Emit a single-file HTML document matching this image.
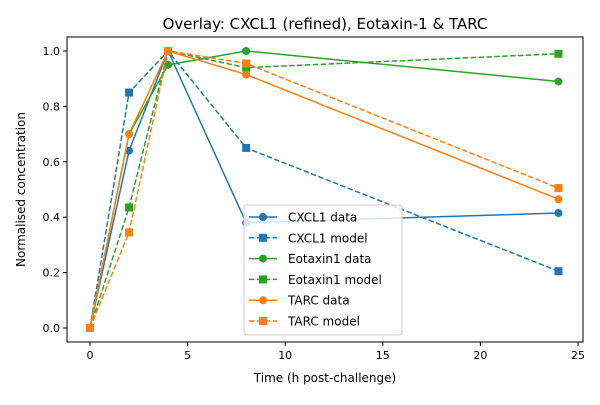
<!DOCTYPE html>
<html><head><meta charset="utf-8"><style>
body{margin:0;background:#fff;font-family:"Liberation Sans","DejaVu Sans",sans-serif}
</style></head><body>
<svg id="chart" width="600" height="400" xmlns="http://www.w3.org/2000/svg" font-family="DejaVu Sans, Liberation Sans, sans-serif"></svg>
<script>
const times=[0,2,4,8,24];
const cxclData=[0,0.64,1.0,0.38,0.415];
const cxclModel=[0,0.85,1.0,0.65,0.205];
const eotaxinData=[0,0.70,0.95,1.0,0.89];
const eotaxinModel=[0,0.435,1.0,0.94,0.99];
const tarcData=[0,0.70,1.0,0.915,0.465];
const tarcModel=[0,0.345,1.0,0.955,0.505];
const xTicks=[0,5,10,15,20,25];
const yTicks=[0,0.2,0.4,0.6,0.8,1.0];

const svg=document.getElementById('chart');
const NS='http://www.w3.org/2000/svg';
const L=67,R=583,T=37,B=342;
const x=v=>90+v*19.52;
const y=v=>328-v*277;
function mk(tag,attrs,parent){const e=document.createElementNS(NS,tag);for(const k in attrs)e.setAttribute(k,attrs[k]);(parent||svg).appendChild(e);return e;}

const title=mk('text',{x:(L+R)/2,y:29,'text-anchor':'middle','font-size':15,fill:'#000'});
title.textContent='Overlay: CXCL1 (refined), Eotaxin-1 & TARC';



const frame=mk('rect',{x:L,y:T,width:R-L,height:B-T,fill:'none',stroke:'#000','stroke-width':1});



xTicks.forEach(t=>{
  mk('line',{x1:x(t),x2:x(t),y1:B,y2:B+4,stroke:'#000'});
  const lb=mk('text',{x:x(t),y:B+17,'text-anchor':'middle','font-size':11});
  lb.textContent=t;
  
  
});
yTicks.forEach(t=>{
  mk('line',{x1:L-4,x2:L,y1:y(t),y2:y(t),stroke:'#000'});
  const lb=mk('text',{x:L-7,y:y(t)+4,'text-anchor':'end','font-size':11});
  lb.textContent=t.toFixed(1);
  
  
});
const xt=mk('text',{x:(L+R)/2,y:382,'text-anchor':'middle','font-size':12});
xt.textContent='Time (h post-challenge)';


const yt=mk('text',{x:0,y:0,'text-anchor':'middle','font-size':12,transform:`translate(25,${(T+B)/2}) rotate(-90)`});
yt.textContent='Normalised concentration';



const series=[
 {name:'CXCL1 data',vals:cxclData,c:'#1f77b4',dash:false,m:'o'},
 {name:'CXCL1 model',vals:cxclModel,c:'#1f77b4',dash:true,m:'s'},
 {name:'Eotaxin1 data',vals:eotaxinData,c:'#2ca02c',dash:false,m:'o'},
 {name:'Eotaxin1 model',vals:eotaxinModel,c:'#2ca02c',dash:true,m:'s'},
 {name:'TARC data',vals:tarcData,c:'#ff7f0e',dash:false,m:'o'},
 {name:'TARC model',vals:tarcModel,c:'#ff7f0e',dash:true,m:'s'}
];
function marker(g,px,py,s){
  if(s.m==='o') return mk('circle',{cx:px,cy:py,r:4,fill:s.c},g);
  return mk('rect',{x:px-4,y:py-4,width:8,height:8,fill:s.c},g);
}
series.forEach(s=>{
  const g=mk('g',{});
  
  
  const pts=times.map((t,i)=>x(t)+','+y(s.vals[i])).join(' ');
  mk('polyline',{points:pts,fill:'none',stroke:s.c,'stroke-width':1.5,'stroke-dasharray':s.dash?'5.5,2.4':'none'},g);
  times.forEach((t,i)=>{
    const p=marker(g,x(t),y(s.vals[i]),s);
    
    
  });
});

const lg=mk('g',{});


mk('rect',{x:244,y:205,width:158,height:130,rx:3,fill:'#fff','fill-opacity':0.8,stroke:'#ccc'},lg);
series.forEach((s,i)=>{
  const ey=217+i*20.8;
  const eg=mk('g',{},lg);
  
  
  mk('line',{x1:249,x2:277,y1:ey,y2:ey,stroke:s.c,'stroke-width':1.5,'stroke-dasharray':s.dash?'5.5,2.4':'none'},eg);
  marker(eg,263,ey,s);
  const tx=mk('text',{x:288,y:ey+4.5,'font-size':12},eg);
  tx.textContent=s.name;
});
</script>
</body></html>
